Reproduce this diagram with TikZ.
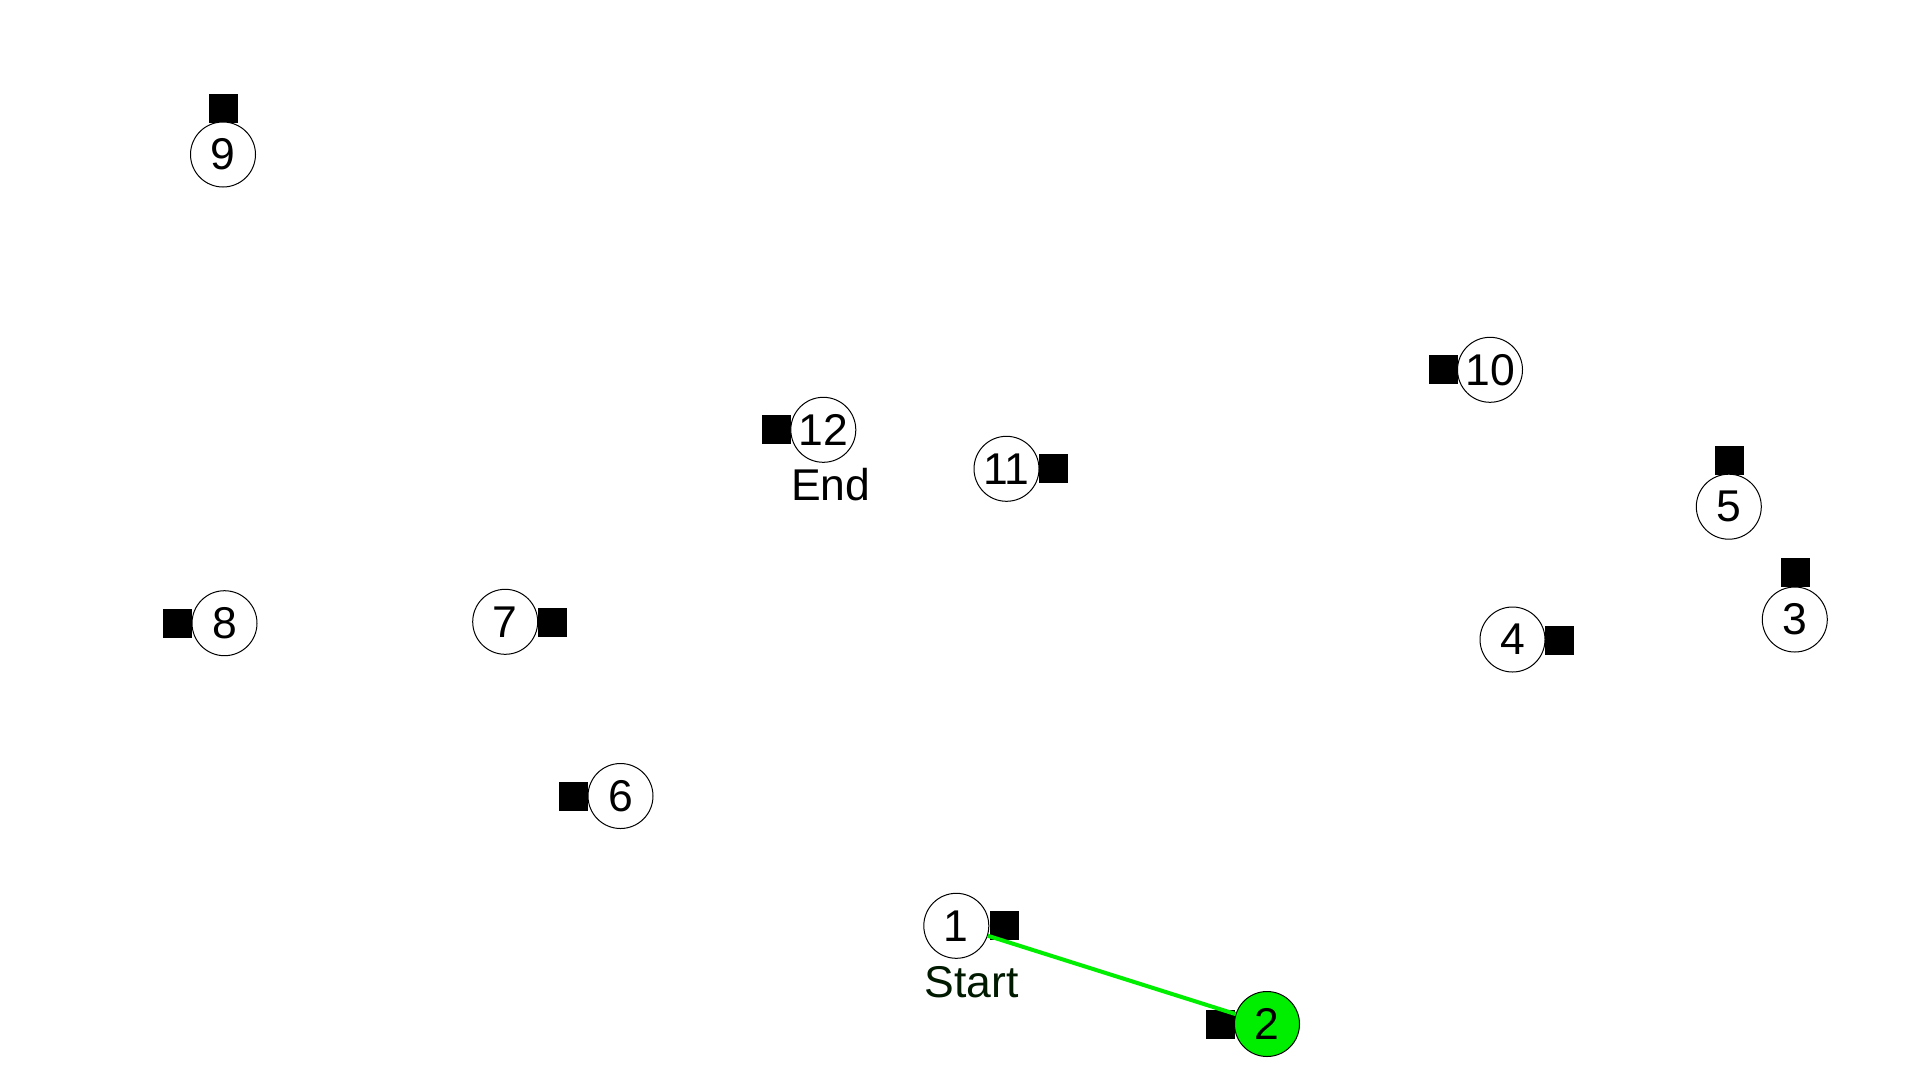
\documentclass[tikz,border=0pt]{standalone}
\usepackage{fontspec}
\setmainfont{Liberation Sans}
\definecolor{pgreen}{RGB}{0,238,0}
\definecolor{startcol}{RGB}{0,26,0}
\begin{document}
\begin{tikzpicture}[x=1pt,y=-1pt,
  vert/.style={circle,draw=black,line width=1pt,fill=white,minimum size=65pt,inner sep=0pt,font=\fontsize{44.5}{48}\selectfont},
  port/.style={rectangle,fill=black,minimum size=29pt,inner sep=0pt},
  lbl/.style={anchor=base west,inner sep=0pt,font=\fontsize{44.5}{48}\selectfont},
  path/.style={draw=pgreen,line width=4pt}]
\useasboundingbox (0,0) rectangle (1920,1080);
\fill[white] (0,0) rectangle (1920,1080);
% squares
\node[port] (s1) at (1004,925.5) {};
\node[port] (s2) at (1220.5,1024) {};
\node[port] (s3) at (1795,572.7) {};
\node[port] (s4) at (1559.5,640.2) {};
\node[port] (s5) at (1729.5,460.5) {};
\node[port] (s6) at (573.5,796) {};
\node[port] (s7) at (552.2,622.3) {};
\node[port] (s8) at (177.5,623.3) {};
\node[port] (s9) at (223,108.3) {};
\node[port] (s10) at (1443.3,369.2) {};
\node[port] (s11) at (1053.3,468.2) {};
\node[port] (s12) at (776.7,429.5) {};
% circles
\node[vert] (n1) at (956.3,925.8) {1};
\node[vert,fill=pgreen] (n2) at (1267,1024) {2};
\node[vert] (n3) at (1794.8,619.5) {3};
\node[vert] (n4) at (1512.5,639.5) {4};
\node[vert] (n5) at (1728.8,506.7) {5};
\node[vert] (n6) at (620.5,796) {6};
\node[vert] (n7) at (505.2,621.8) {7};
\node[vert] (n8) at (224.5,623.2) {8};
\node[vert] (n9) at (223,154.5) {9};
\node[vert] (n10) at (1490,369.8) {10};
\node[vert] (n11) at (1006.5,468.8) {11};
\node[vert] (n12) at (823.3,429.8) {12};
% labels
\node[lbl,text=startcol] (lstart) at (924.7,997) {Start};
\node[lbl] (lend) at (790.8,500.7) {End};
% connector
\draw[path] (n1) -- (n2);
\end{tikzpicture}
\end{document}
